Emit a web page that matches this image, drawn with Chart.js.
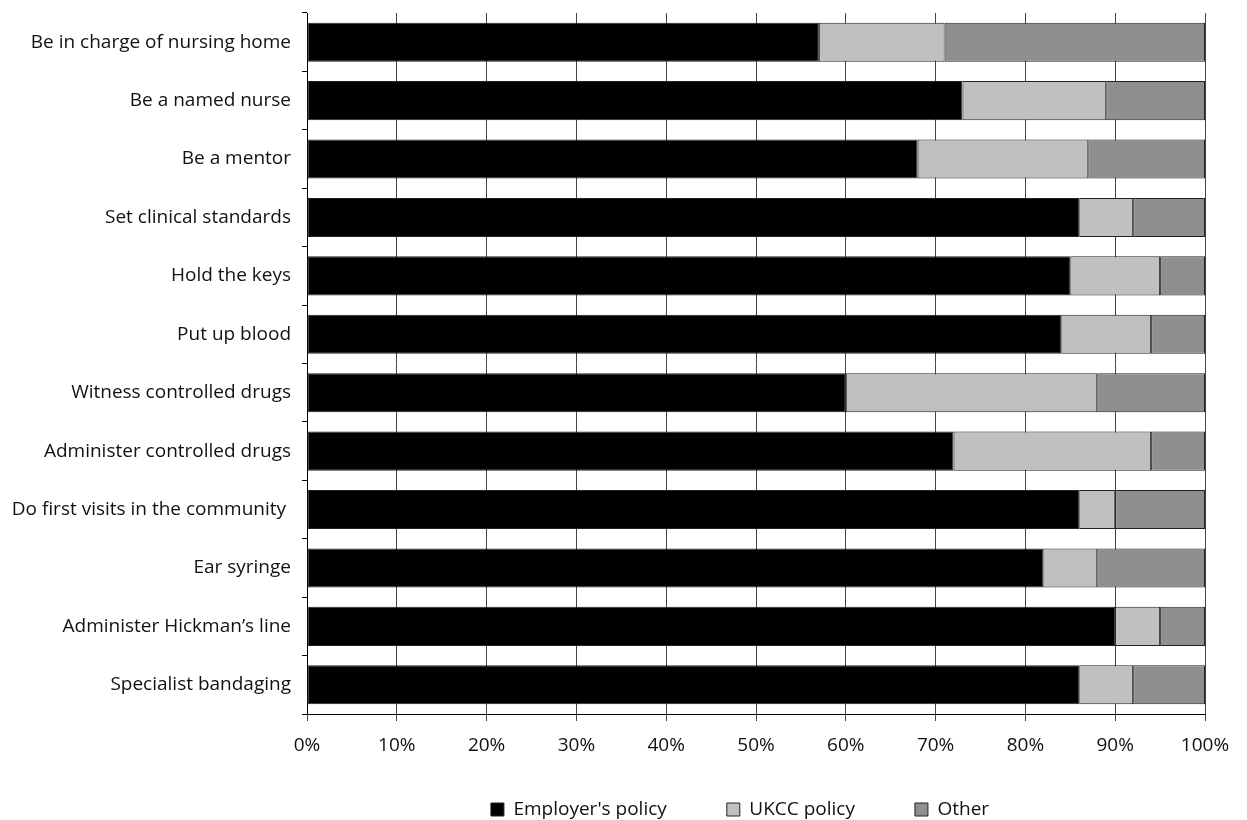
<!DOCTYPE html>
<html>
<head>
<meta charset="utf-8">
<script src="https://cdn.jsdelivr.net/npm/chart.js@4"></script>
<style>
  body { margin: 0; background: #fff; }
  canvas { display: block; }
</style>
</head>
<body>
<canvas id="chart" width="1247" height="820"></canvas>
<script>
let categories = [
    'Be in charge of nursing home',
    'Be a named nurse',
    'Be a mentor',
    'Set clinical standards',
    'Hold the keys',
    'Put up blood',
    'Witness controlled drugs',
    'Administer controlled drugs',
    'Do first visits in the community ',
    'Ear syringe',
    'Administer Hickman\u2019s line',
    'Specialist bandaging'
];
let employerPolicy = [57, 73, 68, 86, 85, 84, 60, 72, 86, 82, 90, 86];
let ukccPolicy = [14, 16, 19, 6, 10, 10, 28, 22, 4, 6, 5, 6];
let other = [29, 11, 13, 8, 5, 6, 12, 6, 10, 12, 5, 8];
let xTicks = [0, 10, 20, 30, 40, 50, 60, 70, 80, 90, 100];

let fontFamily = '"Open Sans", sans-serif';

// the legend sits off-centre and lower than chart.js would put it
let legendPlace = {
    id: 'legendPlace',
    beforeInit(chart) {
        let fit = chart.legend.fit;
        chart.legend.fit = function () {
            fit.call(this);
            this.height = 56;
        };
    },
    afterLayout(chart) {
        let lg = chart.legend;
        lg.top = 740;
        lg.bottom = 820;
        lg.left = 233;
        lg.right = 1247;
    }
};

function makeDataset(label, data, color) {
    return {
        label: label,
        data: data,
        backgroundColor: color,
        borderColor: '#222',
        borderWidth: 1,
        borderSkipped: false,
        barPercentage: 0.67,
        categoryPercentage: 1
    };
}

let ctx = document.getElementById('chart').getContext('2d');
new Chart(ctx, {
    type: 'bar',
    data: {
        labels: categories,
        datasets: [
            makeDataset("Employer's policy", employerPolicy, '#000000'),
            makeDataset('UKCC policy', ukccPolicy, '#c0c0c0'),
            makeDataset('Other', other, '#8f8f8f')
        ]
    },
    options: {
        indexAxis: 'y',
        responsive: false,
        animation: false,
        layout: {
            padding: { top: 13, left: 0, right: 42, bottom: 0 }
        },
        scales: {
            x: {
                stacked: true,
                min: 0,
                max: 100,
                afterBuildTicks: (scale) => {
                    scale.ticks = xTicks.map(v => ({ value: v }));
                },
                afterFit: (scale) => {
                    scale.height = 50;
                },
                ticks: {
                    callback: (v) => v + '%',
                    color: '#111',
                    padding: 13,
                    font: { family: fontFamily, size: 19 }
                },
                grid: {
                    color: '#444',
                    lineWidth: 1,
                    tickLength: 7
                },
                border: { color: '#000', width: 1 }
            },
            y: {
                stacked: true,
                afterFit: (scale) => {
                    scale.width = 307;
                    scale.paddingTop = 0;
                    scale.paddingBottom = 0;
                },
                ticks: {
                    autoSkip: false,
                    color: '#111',
                    padding: 11,
                    font: { family: fontFamily, size: 19 }
                },
                grid: {
                    drawOnChartArea: false,
                    color: '#000',
                    tickLength: 5
                },
                border: { color: '#000', width: 1 }
            }
        },
        plugins: {
            legend: {
                position: 'bottom',
                labels: {
                    boxWidth: 13,
                    boxHeight: 13,
                    padding: 60,
                    color: '#111',
                    font: { family: fontFamily, size: 19 }
                }
            },
            tooltip: { enabled: false }
        }
    },
    plugins: [legendPlace]
});
</script>
</body>
</html>
